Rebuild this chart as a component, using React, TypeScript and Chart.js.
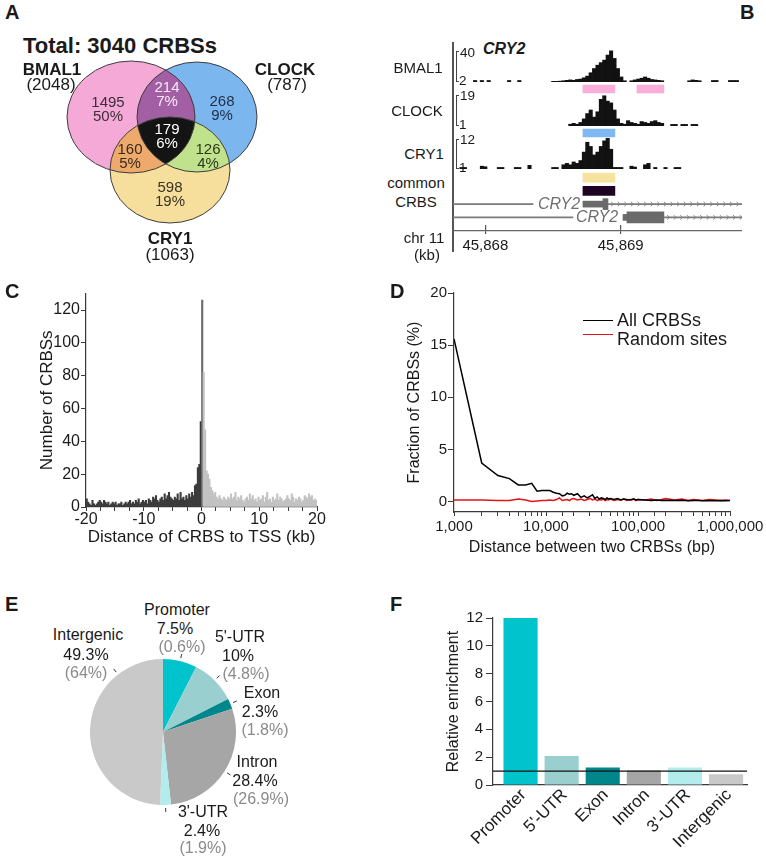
import React, { useEffect, useRef } from 'react';
import { Chart, registerables } from 'chart.js';

Chart.register(...registerables);

const FONT = "'Liberation Sans', Arial, Helvetica, sans-serif";
Chart.defaults.font.family = FONT;
Chart.defaults.color = '#1a1a1a';
const _ = null;
const AX = '#3a3a3a';

// ---------------- Panel A : Venn ----------------
const VENN_TITLE = 'Total: 3040 CRBSs';
const VENN_SETS = ['BMAL1', 'CLOCK', 'CRY1'];
const VENN_TOTALS = [2048, 787, 1063];
const VENN_REGION_SETS = [[0], [1], [2], [0, 1], [0, 2], [1, 2], [0, 1, 2]];
const VENN_COUNTS = [1495, 268, 598, 214, 160, 126, 179];
const VENN_PCTS = [50, 9, 19, 7, 5, 4, 6];
const VENN_COLORS = ['#f5a9d6', '#7cb6ef', '#f6df9c', '#a25fa4', '#eeaa6c', '#c1e28c', '#141414'];
const VENN_TEXT = ['#3a2f3a', '#1f2f45', '#3a3322', '#f8e8f8', '#3a2a1a', '#2a3a1a', '#ffffff'];
// diagram geometry (layout units = panel pixels)
const VENN_SHAPES = [
  { cx: 131, cy: 117, rx: 64, ry: 56 },
  { cx: 197, cy: 117, rx: 60, ry: 55 },
  { cx: 170, cy: 170, rx: 60, ry: 53 },
];
const VENN_LABEL_POS = [[108, 110], [222, 109], [170, 195], [167, 95], [130, 157], [208, 157], [167, 137]];

// ---------------- Panel B : tracks ----------------
const B_MIN = 45867.761;
const B_MAX = 45869.896;
const B_AXIS_TICKS = [45868, 45869];
const BMAL1_SIGNAL = [
  _, _, _, _, _, _, 3.8, _, 3.8, _,
  3.8, _, _, _, _, _, 3.8, _, _, 3.8,
  _, _, _, _, _, _, _, _, _, 2.8,
  2.8, 3, 3.5, 4, 4.5, 4, 5, 5.5, 7, 9,
  13, 18, 22, 25, 28, 34, 39, 30, 18, 8,
  3.5, _, 3.5, 4.5, 5.5, 6.5, 8, 6.5, 5, 4.5,
  4, 3.5, _, _, _, _, _, _, _, 3.5,
  4.5, 4, 3.5, _, _, _, 3.8, 3.8, _, _,
  _, 3.8, 3.8, 3.8, _,
];
const CLOCK_SIGNAL = [
  _, _, _, _, _, _, _, _, _, _,
  _, _, _, _, _, _, _, _, _, _,
  _, _, _, _, _, _, _, _, _, _,
  _, _, _, _, 2, 2.5, 2, 3, 5, 8,
  10, 6, 9, 16, 18, 15, 14, 10, 5, 2.5,
  2, 4, 3, 2.5, 2, 3.5, 3, 2.5, 3.5, 4,
  3, 2.5, _, _, 1.9, 1.9, _, 1.9, 1.9, _,
  1.9, 1.9, _, _, _, _, _, _, _, _,
  _, _, _, _, _,
];
const CRY1_SIGNAL = [
  _, _, 1.55, 1.55, _, _, _, _, 2, 1.8,
  _, _, _, 1.55, 1.55, _, _, _, 1.55, 1.55,
  _, _, 2.3, _, _, _, _, _, _, 1.55,
  1.55, _, 2.5, 3, 2.5, 3.5, 3, 4, 7, 10.5,
  9, 6, 7, 9, 11, 12, 8, 1.55, 1.55, 1.55,
  _, _, 2, 1.7, _, _, 2.5, 3, _, 1.55,
  _, _, 1.55, _, _, 1.55, 1.55, _, _, _,
  _, _, _, _, _, _, _, _, _, _,
  _, _, _, _, _,
];
const BMAL1_PEAKS = [[45868.721, 45868.957], [45869.12, 45869.319]];
const CLOCK_PEAKS = [[45868.721, 45868.957]];
const CRY1_PEAKS = [[45868.721, 45868.957]];
const COMMON_CRBS = [[45868.721, 45868.957]];
const GENE_ROWS = ['cry1', 'common', 'tx1', 'tx2'];
const GENE_LINES = [
  { y: 'tx1', x: [B_MIN, 45868.352] }, { y: 'tx1', x: [45868.906, B_MAX] },
  { y: 'tx2', x: [B_MIN, 45868.647] }, { y: 'tx2', x: [45869.319, B_MAX] },
];
const GENE_UTR = [{ y: 'tx1', x: [45868.721, 45868.869] }, { y: 'tx2', x: [45869.017, 45869.046] }];
const GENE_CDS = [{ y: 'tx1', x: [45868.869, 45868.906] }, { y: 'tx2', x: [45869.046, 45869.319] }];
const GENE_STRAND = [{ y: 'tx1', x: [45868.906, B_MAX] }, { y: 'tx2', x: [45869.319, B_MAX] }];

// ---------------- Panel C : histogram ----------------
const HIST_BIN_KB = 0.25;
const HIST_NEG = [
  5, 3, 2, 1, 4, 2, 1, 2, 3, 4,
  3, 2, 4, 3, 2, 3, 1, 2, 3, 2,
  3, 1, 2, 2, 3, 1, 2, 3, 2, 3,
  4, 2, 3, 2, 4, 3, 5, 2, 3, 4,
  3, 4, 2, 5, 4, 3, 6, 5, 7, 4,
  3, 5, 6, 4, 8, 5, 7, 9, 6, 5,
  4, 6, 5, 8, 4, 9, 5, 6, 4, 7,
  5, 8, 6, 9, 7, 13, 14, 24, 26, 52,
];
const HIST_POS = [
  126, 82, 47, 22, 20, 17, 12, 10, 8, 9,
  6, 5, 7, 5, 4, 6, 5, 4, 6, 5,
  8, 5, 6, 9, 4, 6, 5, 7, 4, 3,
  5, 6, 4, 8, 5, 7, 4, 5, 3, 6,
  4, 5, 7, 3, 6, 9, 4, 5, 3, 6,
  4, 5, 8, 4, 6, 5, 3, 4, 5, 7,
  5, 4, 8, 6, 3, 5, 4, 6, 5, 3,
  4, 7, 6, 5, 8, 6, 7, 4, 5, 4,
];

// ---------------- Panel D : distance distribution ----------------
const D_X = [
  1000, 2000, 3000, 4000, 5000, 6000, 7000, 8000, 9000, 10000,
  11000, 12000, 13000, 14000, 15000, 16000, 17000, 18000, 19000, 20000,
  22000, 24000, 26000, 28000, 30000, 32000, 34000, 36000, 38000, 40000,
  42000, 44000, 46000, 48000, 50000,
  55000, 60000, 65000, 70000, 75000, 80000, 85000, 90000, 95000, 100000,
  120000, 140000, 160000, 180000, 200000,
  250000, 300000, 350000, 400000, 450000, 500000,
  600000, 700000, 800000, 900000, 1000000,
];
const D_ALL = [
  15.6, 3.7, 2.5, 2.2, 1.6, 1.6, 1.75, 1.0, 1.05, 1.05,
  1.05, 0.9, 0.8, 0.75, 0.55, 0.6, 0.8, 0.7, 0.75, 0.6,
  0.75, 0.4, 0.55, 0.35, 0.5, 0.65, 0.3, 0.45, 0.25, 0.35,
  0.3, 0.2, 0.35, 0.25, 0.3,
  0.2, 0.3, 0.15, 0.25, 0.2, 0.15, 0.2, 0.25, 0.15, 0.2,
  0.15, 0.1, 0.15, 0.1, 0.12,
  0.1, 0.12, 0.08, 0.1, 0.1, 0.08,
  0.1, 0.08, 0.1, 0.08, 0.1,
];
const D_RANDOM = [
  0.15, 0.15, 0.1, 0.1, 0.25, 0.15, 0.0, 0.05, 0.1, 0.1,
  0.15, 0.1, 0.2, 0.35, 0.1, 0.15, 0.2, 0.1, 0.25, 0.3,
  0.15, 0.25, 0.1, 0.2, 0.3, 0.15, 0.25, 0.1, 0.2, 0.15,
  0.25, 0.1, 0.2, 0.15, 0.25,
  0.1, 0.2, 0.15, 0.25, 0.1, 0.2, 0.15, 0.25, 0.1, 0.2,
  0.15, 0.25, 0.1, 0.2, 0.3,
  0.15, 0.25, 0.1, 0.2, 0.15, 0.1,
  0.2, 0.15, 0.1, 0.15, 0.1,
];
const D_Y_TICKS = [0, 5, 10, 15, 20];

// ---------------- Panel E / F : genomic distribution ----------------
const REGIONS = ['Promoter', "5'-UTR", 'Exon', 'Intron', "3'-UTR", 'Intergenic'];
const REGION_COLORS = ['#00c3cb', '#99d0cf', '#00878b', '#a6a6a6', '#b2ecec', '#c9c9c9'];
const CRBS_PCT = [7.5, 10, 2.3, 28.4, 2.4, 49.3];
const GENOME_PCT = [0.6, 4.8, 1.8, 26.9, 1.9, 64];
const PIE_LEADER_OVERRIDE: Record<string, number> = { Intergenic: 322 };
const ENRICHMENT = [12, 2.08, 1.25, 1.05, 1.25, 0.77];
const ENRICH_REF = 1;

// ---------------- helpers ----------------
function ChartBox({ x, y, w, h, config }: { x: number; y: number; w: number; h: number; config: () => any }) {
  const ref = useRef<HTMLCanvasElement>(null);
  useEffect(() => {
    const c = new Chart(ref.current as HTMLCanvasElement, config());
    return () => c.destroy();
  }, []);
  return <canvas ref={ref} width={w} height={h} style={{ position: 'absolute', left: x, top: y, width: w, height: h }} />;
}

function T({ x, y, s = 15, b = false, i = false, c = '#1a1a1a', a = 'center', children }: any) {
  const tx = a === 'center' ? '-50%' : a === 'right' ? '-100%' : '0';
  return (
    <div style={{
      position: 'absolute', left: x, top: y, transform: `translate(${tx},-50%)`, fontFamily: FONT,
      fontSize: s, fontWeight: b ? 'bold' : 'normal', fontStyle: i ? 'italic' : 'normal', color: c,
      lineHeight: 1, whiteSpace: 'nowrap',
    }}>{children}</div>
  );
}

const baseOpts = (extra: any) => ({
  animation: false, responsive: false, devicePixelRatio: 1, events: [],
  plugins: { legend: { display: false }, tooltip: { enabled: false } },
  ...extra,
});

// ---------------- configs ----------------
const vennPlugin = {
  id: 'venn',
  afterDatasetsDraw(chart: any) {
    const { ctx, scales: { x, y } } = chart;
    const shapes = VENN_SHAPES.map((s) => ({
      cx: x.getPixelForValue(s.cx), cy: y.getPixelForValue(s.cy),
      rx: Math.abs(x.getPixelForValue(s.cx + s.rx) - x.getPixelForValue(s.cx)),
      ry: Math.abs(y.getPixelForValue(s.cy + s.ry) - y.getPixelForValue(s.cy)),
    }));
    const path = (k: number) => { const s = shapes[k]; ctx.beginPath(); ctx.ellipse(s.cx, s.cy, s.rx, s.ry, 0, 0, Math.PI * 2); };
    VENN_REGION_SETS.forEach((m, idx) => {
      ctx.save();
      for (let k = 1; k < m.length; k++) { path(m[k]); ctx.clip(); }
      path(m[0]); ctx.fillStyle = VENN_COLORS[idx]; ctx.fill();
      ctx.restore();
    });
    ctx.save(); ctx.strokeStyle = '#3d3d3d'; ctx.lineWidth = 1;
    shapes.forEach((_s, k) => { path(k); ctx.stroke(); });
    ctx.restore();
    ctx.save(); ctx.font = `15px ${FONT}`; ctx.textAlign = 'center'; ctx.textBaseline = 'middle';
    VENN_COUNTS.forEach((cnt, k) => {
      const px = x.getPixelForValue(VENN_LABEL_POS[k][0]);
      const py = y.getPixelForValue(VENN_LABEL_POS[k][1]);
      ctx.fillStyle = VENN_TEXT[k];
      ctx.fillText(String(cnt), px, py - 7);
      ctx.fillText(VENN_PCTS[k] + '%', px, py + 7);
    });
    ctx.restore();
  },
};
const vennConfig = () => ({
  type: 'scatter',
  data: { datasets: [{ data: [], pointRadius: 0 }] },
  options: baseOpts({
    layout: { padding: 0 },
    scales: { x: { type: 'linear', display: false, min: 0, max: 380 }, y: { type: 'linear', display: false, min: 0, max: 285, reverse: true } },
  }),
  plugins: [vennPlugin],
});

const trackConfig = (values: any[], min: number, max: number) => () => ({
  type: 'bar',
  data: { labels: values.map((_v, k) => k), datasets: [{ data: values, backgroundColor: '#111', borderWidth: 0, barPercentage: 1, categoryPercentage: 1 }] },
  options: baseOpts({ layout: { padding: 0 }, scales: { x: { display: false }, y: { display: false, min, max } } }),
});

const peakRowConfig = (peaks: number[][], color: string, thick: number) => () => ({
  type: 'bar',
  data: { labels: ['r'], datasets: [{ data: peaks.map((p) => ({ y: 'r', x: p })), backgroundColor: color, borderWidth: 0, barThickness: thick, grouped: false }] },
  options: baseOpts({ indexAxis: 'y', layout: { padding: 0 }, scales: { x: { type: 'linear', display: false, min: B_MIN, max: B_MAX }, y: { display: false } } }),
});

const chevronPlugin = {
  id: 'chev',
  afterDatasetsDraw(chart: any) {
    const { ctx, scales: { x, y } } = chart;
    ctx.save(); ctx.strokeStyle = '#858585'; ctx.lineWidth = 1;
    GENE_STRAND.forEach((g) => {
      const py = y.getPixelForValue(GENE_ROWS.indexOf(g.y));
      const x0 = x.getPixelForValue(g.x[0]) + 5; const x1 = x.getPixelForValue(g.x[1]);
      for (let px = x0; px <= x1; px += 6.6) {
        ctx.beginPath(); ctx.moveTo(px - 1.8, py - 2.2); ctx.lineTo(px + 0.6, py); ctx.lineTo(px - 1.8, py + 2.2); ctx.stroke();
      }
    });
    ctx.restore();
  },
};
const geneConfig = () => ({
  type: 'bar',
  data: {
    labels: GENE_ROWS,
    datasets: [
      { data: CRY1_PEAKS.map((p) => ({ y: 'cry1', x: p })), backgroundColor: '#f5e39e', barThickness: 9, grouped: false, borderWidth: 0 },
      { data: COMMON_CRBS.map((p) => ({ y: 'common', x: p })), backgroundColor: '#1e0322', barThickness: 9, grouped: false, borderWidth: 0 },
      { data: GENE_LINES, backgroundColor: '#7a7a7a', barThickness: 1.3, grouped: false, borderWidth: 0 },
      { data: GENE_UTR, backgroundColor: '#6a6a6a', barThickness: 6, grouped: false, borderWidth: 0 },
      { data: GENE_CDS, backgroundColor: '#6a6a6a', barThickness: 11, grouped: false, borderWidth: 0 },
    ],
  },
  options: baseOpts({ indexAxis: 'y', layout: { padding: 0 }, scales: { x: { type: 'linear', display: false, min: B_MIN, max: B_MAX }, y: { display: false } } }),
  plugins: [chevronPlugin],
});

const bAxisConfig = () => ({
  type: 'line',
  data: { datasets: [] },
  options: baseOpts({
    layout: { padding: { top: 3, left: 0, right: 0, bottom: 0 } },
    scales: {
      x: {
        type: 'linear', min: B_MIN, max: B_MAX, position: 'bottom',
        grid: { drawOnChartArea: true, color: '#555', lineWidth: 1.2, tickLength: 3, offset: false },
        border: { color: '#666', width: 1.2 },
        ticks: { font: { size: 15 }, padding: 3, color: '#1a1a1a', maxRotation: 0, callback: (v: any) => Number(v).toLocaleString('en-US') },
        afterBuildTicks: (s: any) => { s.ticks = B_AXIS_TICKS.map((v) => ({ value: v })); },
        afterFit: (s: any) => { s.height = 31; },
      },
      y: { display: false },
    },
  }),
});

const histConfig = () => ({
  type: 'bar',
  data: {
    datasets: [{
      data: [
        ...HIST_NEG.map((v, k) => ({ x: -20 + (k + 0.5) * HIST_BIN_KB, y: v })),
        ...HIST_POS.map((v, k) => ({ x: (k + 0.5) * HIST_BIN_KB, y: v })),
      ],
      backgroundColor: (c: any) => (c.raw && c.raw.x < 0 ? '#3b3b3b' : c.index === HIST_NEG.length ? '#6a6a6a' : '#c2c2c2'),
      borderWidth: 0, barPercentage: 1, categoryPercentage: 1,
    }],
  },
  options: baseOpts({
    layout: { padding: { left: 37, right: 63, top: 10, bottom: 7 } },
    scales: {
      x: {
        type: 'linear', min: -20, max: 20, offset: false,
        grid: { drawOnChartArea: false, offset: false, tickLength: 4, color: AX },
        border: { color: AX, width: 1.2 },
        ticks: { stepSize: 2.5, autoSkip: false, maxRotation: 0, font: { size: 16 }, color: '#1a1a1a', padding: -1, callback: (v: any) => (v % 10 === 0 ? String(v) : '') },
        title: { display: true, text: 'Distance of CRBS to TSS (kb)', font: { size: 17 }, color: '#1a1a1a', padding: 0 },
        afterFit: (s: any) => { s.height = 41; },
      },
      y: {
        min: 0, max: 130,
        grid: { drawOnChartArea: false, tickLength: 5, color: AX },
        border: { color: AX, width: 1.2 },
        ticks: { stepSize: 10, font: { size: 16 }, color: '#1a1a1a', padding: 1, callback: (v: any) => (v % 20 === 0 ? String(v) : '') },
        title: { display: true, text: 'Number of CRBSs', font: { size: 17 }, color: '#1a1a1a', padding: 0 },
        afterFit: (s: any) => { s.width = 49; },
      },
    },
  }),
});

const distConfig = () => ({
  type: 'line',
  data: {
    datasets: [
      { label: 'All CRBSs', data: D_X.map((x, k) => ({ x, y: D_ALL[k] })), borderColor: '#000', borderWidth: 1.5, pointRadius: 0, tension: 0 },
      { label: 'Random sites', data: D_X.map((x, k) => ({ x, y: D_RANDOM[k] })), borderColor: '#e3141c', borderWidth: 1.5, pointRadius: 0, tension: 0 },
    ],
  },
  options: baseOpts({
    layout: { padding: { left: 25, right: 36, top: 10, bottom: 3 } },
    scales: {
      x: {
        type: 'logarithmic', min: 1000, max: 1000000,
        grid: { drawOnChartArea: false, tickLength: 4, color: AX },
        border: { color: AX, width: 1.2 },
        ticks: { autoSkip: false, maxRotation: 0, font: { size: 15 }, color: '#1a1a1a', padding: 2, callback: (v: any) => (Number.isInteger(Math.log10(v)) ? Number(v).toLocaleString('en-US') : '') },
        title: { display: true, text: 'Distance between two CRBSs (bp)', font: { size: 16 }, color: '#1a1a1a', padding: 0 },
        afterFit: (s: any) => { s.height = 45; },
      },
      y: {
        min: -1, max: 20,
        grid: { drawOnChartArea: false, tickLength: 6, color: AX },
        border: { color: AX, width: 1.2 },
        ticks: { font: { size: 15 }, color: '#1a1a1a', padding: 1 },
        afterBuildTicks: (s: any) => { s.ticks = D_Y_TICKS.map((v) => ({ value: v })); },
        title: { display: true, text: 'Fraction of CRBSs (%)', font: { size: 16 }, color: '#1a1a1a', padding: 0 },
        afterFit: (s: any) => { s.width = 49; },
      },
    },
  }),
});

const leaderPlugin = {
  id: 'leader',
  afterDatasetsDraw(chart: any) {
    const { ctx } = chart;
    const meta = chart.getDatasetMeta(0);
    ctx.save(); ctx.strokeStyle = '#333'; ctx.lineWidth = 1;
    meta.data.forEach((arc: any, k: number) => {
      const ov = PIE_LEADER_OVERRIDE[REGIONS[k]];
      const ang = ov !== undefined ? ((ov - 90) * Math.PI) / 180 : (arc.startAngle + arc.endAngle) / 2;
      const r0 = arc.outerRadius + 3; const r1 = arc.outerRadius + 7;
      ctx.beginPath();
      ctx.moveTo(arc.x + Math.cos(ang) * r0, arc.y + Math.sin(ang) * r0);
      ctx.lineTo(arc.x + Math.cos(ang) * r1, arc.y + Math.sin(ang) * r1);
      ctx.stroke();
    });
    ctx.restore();
  },
};
const pieConfig = () => ({
  type: 'pie',
  data: { labels: REGIONS, datasets: [{ data: CRBS_PCT, backgroundColor: REGION_COLORS, borderWidth: 0 }] },
  options: baseOpts({ layout: { padding: 9 } }),
  plugins: [leaderPlugin],
});

const refLinePlugin = {
  id: 'refline',
  afterDatasetsDraw(chart: any) {
    const { ctx, chartArea, scales: { y } } = chart;
    const py = y.getPixelForValue(ENRICH_REF);
    ctx.save(); ctx.strokeStyle = '#111'; ctx.lineWidth = 1.2;
    ctx.beginPath(); ctx.moveTo(chartArea.left, py); ctx.lineTo(chartArea.right, py); ctx.stroke();
    ctx.restore();
  },
};
const enrichConfig = () => ({
  type: 'bar',
  data: {
    datasets: [{
      data: ENRICHMENT.map((v, k) => ({ x: k, y: v })),
      backgroundColor: REGION_COLORS, borderWidth: 0, barPercentage: 0.83, categoryPercentage: 1,
    }],
  },
  options: baseOpts({
    layout: { padding: { left: 64, right: 19, top: 20, bottom: 0 } },
    scales: {
      x: {
        type: 'linear', min: -0.67, max: 5.51, offset: false,
        grid: { drawOnChartArea: false, drawTicks: false, offset: false, color: AX },
        border: { color: AX, width: 1.2 },
        ticks: { minRotation: 45, maxRotation: 45, autoSkip: false, font: { size: 17 }, color: '#1a1a1a', padding: 0, labelOffset: 3, callback: (v: any) => REGIONS[v] ?? '' },
        afterBuildTicks: (s: any) => { s.ticks = REGIONS.map((_r, k) => ({ value: k })); },
        afterFit: (s: any) => { s.height = 74; },
      },
      y: {
        min: 0, max: 12,
        grid: { drawOnChartArea: false, tickLength: 7, color: AX },
        border: { color: AX, width: 1.2 },
        ticks: { stepSize: 1, font: { size: 15 }, color: '#1a1a1a', padding: 3, callback: (v: any) => (v % 2 === 0 ? String(v) : '') },
        title: { display: true, text: 'Relative enrichment', font: { size: 16 }, color: '#1a1a1a', padding: 0 },
        afterFit: (s: any) => { s.width = 49; },
      },
    },
  }),
  plugins: [refLinePlugin],
});

function Bracket({ x, top, bottom }: { x: number; top: number; bottom: number }) {
  return <div style={{ position: 'absolute', left: x, top, width: 3, height: bottom - top, borderLeft: '1px solid #444', borderTop: '1px solid #444', borderBottom: '1px solid #444', boxSizing: 'border-box' }} />;
}

export default function App() {
  const pieLabelPos = [
    [[177, 610], [175, 629], [182, 647]],
    [[240, 637], [238, 656], [246, 674]],
    [[262, 693], [260, 712], [265, 730]],
    [[257, 762], [255, 781], [261, 799]],
    [[203, 812], [202, 831], [203, 848]],
    [[88, 635], [86, 655], [86, 673]],
  ];
  return (
    <div style={{ position: 'absolute', left: 0, top: 0, width: 766, height: 859, background: '#fff', overflow: 'hidden', fontFamily: FONT }}>
      {/* Panel A */}
      <T x={5} y={12} s={20} b a="left">A</T>
      <T x={120} y={46} s={22} b>{VENN_TITLE}</T>
      <ChartBox x={0} y={0} w={380} h={285} config={vennConfig} />
      <T x={52} y={69} s={17} b>{VENN_SETS[0]}</T>
      <T x={51} y={84} s={17}>({VENN_TOTALS[0]})</T>
      <T x={285} y={69} s={17} b>{VENN_SETS[1]}</T>
      <T x={287} y={84} s={17}>({VENN_TOTALS[1]})</T>
      <T x={170} y={238} s={17} b>{VENN_SETS[2]}</T>
      <T x={170} y={254} s={17}>({VENN_TOTALS[2]})</T>

      {/* Panel B */}
      <T x={740} y={12} s={20} b a="left">B</T>
      <div style={{ position: 'absolute', left: 452, top: 42, width: 1.6, height: 210, background: '#555' }} />
      <T x={418} y={67} s={15}>BMAL1</T>
      <T x={417} y={110} s={15}>CLOCK</T>
      <T x={424} y={153} s={15}>CRY1</T>
      <T x={416} y={182} s={15}>common</T>
      <T x={416} y={201} s={15}>CRBS</T>
      <T x={424} y={237} s={15}>chr 11</T>
      <T x={427} y={254} s={15}>(kb)</T>
      <T x={483} y={49} s={16} b i a="left">CRY2</T>
      <Bracket x={456} top={51} bottom={82} />
      <Bracket x={456} top={95} bottom={126} />
      <Bracket x={456} top={139} bottom={169} />
      <T x={460} y={53} s={13.5} a="left">40</T>
      <T x={459} y={81} s={13.5} a="left">2</T>
      <T x={460} y={96} s={13.5} a="left">19</T>
      <T x={459} y={125} s={13.5} a="left">1</T>
      <T x={460} y={140} s={13.5} a="left">12</T>
      <T x={459} y={168} s={13.5} a="left">1</T>
      <ChartBox x={453} y={50} w={289} h={32} config={trackConfig(BMAL1_SIGNAL, 2, 40)} />
      <ChartBox x={453} y={83} w={289} h={12} config={peakRowConfig(BMAL1_PEAKS, '#f7afd9', 8)} />
      <ChartBox x={453} y={94} w={289} h={32} config={trackConfig(CLOCK_SIGNAL, 1, 19)} />
      <ChartBox x={453} y={127} w={289} h={12} config={peakRowConfig(CLOCK_PEAKS, '#80b9f2', 8)} />
      <ChartBox x={453} y={138} w={289} h={31} config={trackConfig(CRY1_SIGNAL, 1, 12)} />
      <ChartBox x={453} y={171} w={289} h={53} config={geneConfig} />
      <T x={559} y={204} s={16} i c="#6e6e6e">CRY2</T>
      <T x={597} y={217} s={16} i c="#6e6e6e">CRY2</T>
      <ChartBox x={453} y={222} w={289} h={40} config={bAxisConfig} />

      {/* Panel C */}
      <T x={5} y={291} s={20} b a="left">C</T>
      <ChartBox x={0} y={283} w={380} h={272} config={histConfig} />

      {/* Panel D */}
      <T x={390} y={291} s={20} b a="left">D</T>
      <ChartBox x={380} y={283} w={386} h={277} config={distConfig} />
      <div style={{ position: 'absolute', left: 583, top: 319.5, width: 30, height: 1.5, background: '#000' }} />
      <T x={617} y={320} s={18} a="left">All CRBSs</T>
      <div style={{ position: 'absolute', left: 583, top: 333.5, width: 30, height: 1.5, background: '#e3141c' }} />
      <T x={617} y={339} s={18} a="left">Random sites</T>

      {/* Panel E */}
      <T x={5} y={604} s={20} b a="left">E</T>
      <ChartBox x={81} y={650} w={164} h={164} config={pieConfig} />
      {REGIONS.map((r, k) => (
        <React.Fragment key={r}>
          <T x={pieLabelPos[k][0][0]} y={pieLabelPos[k][0][1]} s={16}>{r}</T>
          <T x={pieLabelPos[k][1][0]} y={pieLabelPos[k][1][1]} s={16}>{CRBS_PCT[k]}%</T>
          <T x={pieLabelPos[k][2][0]} y={pieLabelPos[k][2][1]} s={16} c="#8a8a8a">({GENOME_PCT[k]}%)</T>
        </React.Fragment>
      ))}

      {/* Panel F */}
      <T x={390} y={604} s={20} b a="left">F</T>
      <ChartBox x={380} y={598} w={386} h={261} config={enrichConfig} />
    </div>
  );
}
